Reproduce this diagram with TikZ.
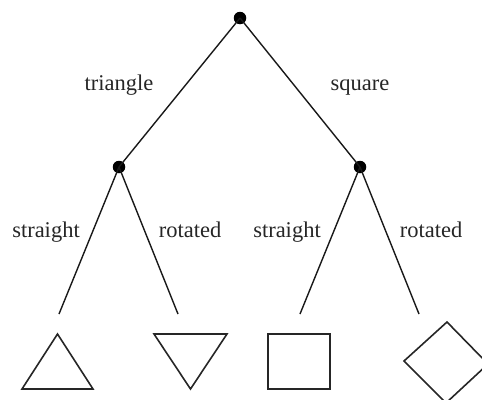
\documentclass[tikz,border=0pt]{standalone}
\usepackage{fontspec}
\setmainfont{Liberation Serif}
\begin{document}
\begin{tikzpicture}[x=1pt,y=-1pt,
  dotnode/.style={circle,fill=black,inner sep=0pt,minimum size=12.5pt},
  edge/.style={line width=1.4pt,black!90},
  lbl/.style={anchor=base,inner sep=0pt,font=\fontsize{22.5}{26}\selectfont,text=black!85},
  shp/.style={line width=1.6pt,black!85,line join=miter}]
\useasboundingbox (0,0) rectangle (482,399);
\node[dotnode] (r) at (240,18) {};
\node[dotnode] (a) at (119,167) {};
\node[dotnode] (b) at (360,167) {};
\coordinate (a1) at (59,314);
\coordinate (a2) at (178,314);
\coordinate (b1) at (300,314);
\coordinate (b2) at (419,314);
\draw[edge] (r.center) -- (a.center);
\draw[edge] (r.center) -- (b.center);
\draw[edge] (a.center) -- (a1);
\draw[edge] (a.center) -- (a2);
\draw[edge] (b.center) -- (b1);
\draw[edge] (b.center) -- (b2);
\node[lbl] (lt) at (119,90) {triangle};
\node[lbl] (ls) at (360,90) {square};
\node[lbl] (l1) at (46,237) {straight};
\node[lbl] (l2) at (190,237) {rotated};
\node[lbl] (l3) at (287,237) {straight};
\node[lbl] (l4) at (431,237) {rotated};
\draw[shp] (22,389) -- (93,389) -- (57.5,334) -- cycle;
\draw[shp] (154,334) -- (227,334) -- (190.5,389) -- cycle;
\draw[shp] (268,334) rectangle (330,389);
\draw[shp] (447,322) -- (488,364) -- (446,403) -- (404,361) -- cycle;
\end{tikzpicture}
\end{document}
